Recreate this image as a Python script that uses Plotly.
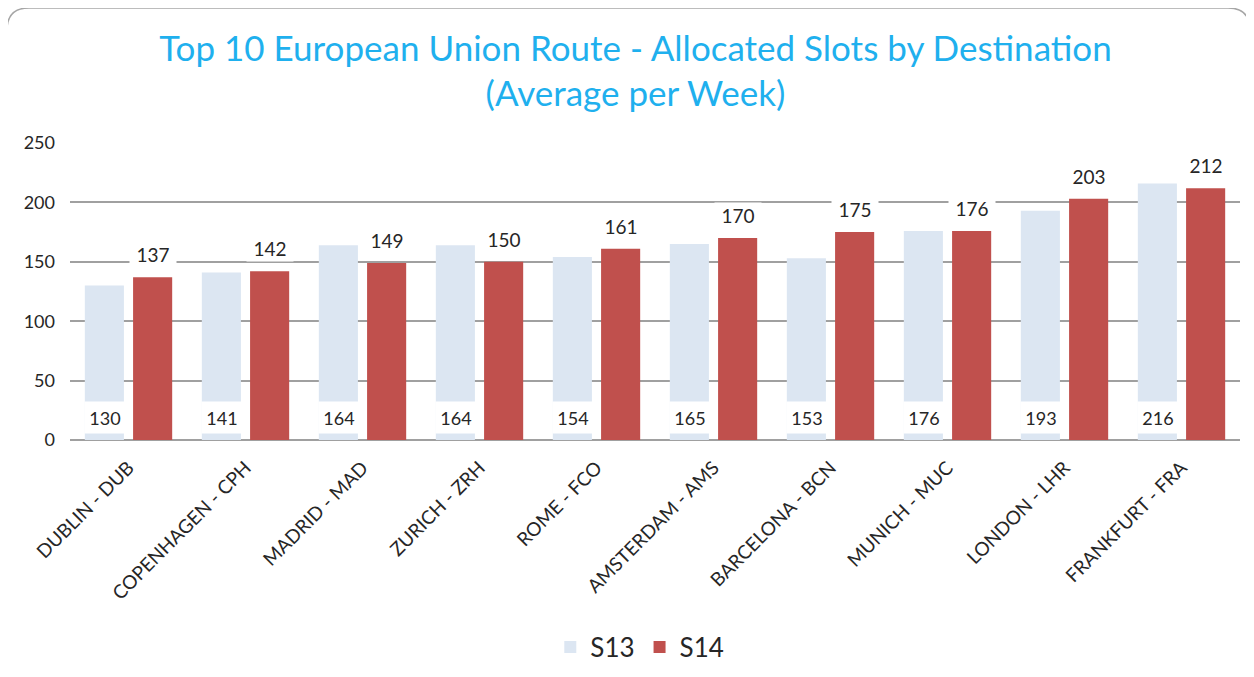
import plotly.graph_objects as go

categories = ["DUBLIN - DUB", "COPENHAGEN - CPH", "MADRID - MAD", "ZURICH - ZRH", "ROME - FCO",
              "AMSTERDAM - AMS", "BARCELONA - BCN", "MUNICH - MUC", "LONDON - LHR", "FRANKFURT - FRA"]
s13 = [130, 141, 164, 164, 154, 165, 153, 176, 193, 216]
s14 = [137, 142, 149, 150, 161, 170, 175, 176, 203, 212]

FONT = "Lato"
# the page body adds an 8px offset, so the figure is sized to the remaining area
W, H = 1246, 669
L, R, T, B = 62, 14, 135, 237

fig = go.Figure()
fig.add_trace(go.Bar(name="S13", x=categories, y=s13, marker_color="#DCE6F2",
                     marker_line_width=0, hoverinfo="x+y"))
fig.add_trace(go.Bar(name="S14", x=categories, y=s14, marker_color="#C0504D",
                     marker_line_width=0, hoverinfo="x+y"))

annotations = []
for c, v in zip(categories, s13):
    annotations.append(dict(x=c, y=0, xref="x", yref="y", text=str(v), showarrow=False,
                            xshift=-24, yshift=6, yanchor="bottom", width=38, height=29,
                            bgcolor="white", font=dict(family=FONT, size=18, color="#262626")))
for c, v in zip(categories, s14):
    annotations.append(dict(x=c, y=v, xref="x", yref="y", text=str(v), showarrow=False,
                            xshift=24, yshift=9, yanchor="bottom", width=44,
                            bgcolor="white", font=dict(family=FONT, size=19, color="#262626")))

# rounded frame (figure pixel coords)
pw = W - L - R
ph = H - T - B
def px(x):
    return (x - L) / pw
def py(y):
    return (H - B - y) / ph
x0, y0, x1, y1, r = -1, 0, 1242, 690, 22
path = (f"M {px(x0)},{py(y1)} L {px(x0)},{py(y0 + r)} Q {px(x0)},{py(y0)} {px(x0 + r)},{py(y0)} "
        f"L {px(x1 - r)},{py(y0)} Q {px(x1)},{py(y0)} {px(x1)},{py(y0 + r)} L {px(x1)},{py(y1)}")

fig.update_layout(
    width=W, height=H,
    margin=dict(l=L, r=R, t=T, b=B, autoexpand=False),
    paper_bgcolor="white", plot_bgcolor="white",
    barmode="group", bargap=0.175, bargroupgap=0.19,
    title=dict(text="Top 10 European Union Route - Allocated Slots by Destination<br>(Average per Week)",
               x=0.5036, xanchor="center", y=0.921, yanchor="middle",
               font=dict(family=FONT, size=35, color="#1FB0EE")),
    font=dict(family=FONT, color="#262626"),
    xaxis=dict(tickangle=-45, tickfont=dict(family=FONT, size=19, color="#262626"),
               showgrid=False, showline=False, ticks="", ticklabelstandoff=12, automargin=False),
    yaxis=dict(range=[0, 250], dtick=50, showgrid=True, gridcolor="#A0A0A0", gridwidth=1.5,
               zeroline=True, zerolinecolor="#A0A0A0", zerolinewidth=1.5,
               tickfont=dict(family=FONT, size=18, color="#262626"), ticks="",
               ticklabelstandoff=14, automargin=False),
    legend=dict(orientation="h", x=0.487, xanchor="center", y=-0.697, yanchor="middle",
                font=dict(family=FONT, size=26, color="#262626"), itemwidth=30),
    annotations=annotations,
    shapes=[dict(type="path", path=path, xref="paper", yref="paper",
                 line=dict(color="#A6A6A6", width=1.5), layer="below")],
)

fig.write_html("out.html")
